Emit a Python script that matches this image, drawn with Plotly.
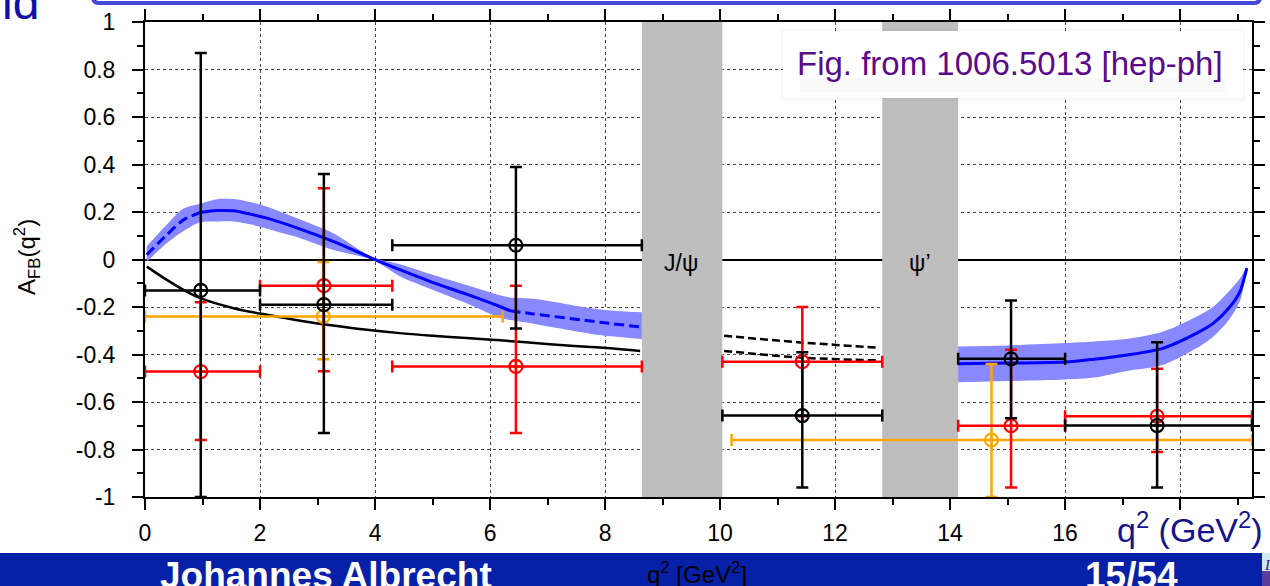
import numpy as np
import plotly.graph_objects as go

# ---------------- data ----------------
# SM prediction (low q2): central value and uncertainty band
sm1_q = [0.03, 0.38, 0.67, 0.96, 1.25, 1.54, 1.83, 2.12, 2.70, 3.27, 3.97, 4.43, 5.01, 5.59, 6.17, 6.35, 6.75, 7.91, 8.64]
sm1_c = [0.02, 0.104, 0.167, 0.198, 0.206, 0.205, 0.191, 0.174, 0.128, 0.076, 0.003, -0.043, -0.097, -0.146, -0.198, -0.216, -0.229, -0.264, -0.285]
sm1_hi = [0.055, 0.147, 0.215, 0.235, 0.254, 0.255, 0.242, 0.222, 0.168, 0.111, 0.008, -0.02, -0.065, -0.107, -0.15, -0.16, -0.165, -0.21, -0.222]
sm1_lo = [-0.01, 0.069, 0.12, 0.157, 0.16, 0.16, 0.148, 0.13, 0.09, 0.041, -0.003, -0.07, -0.128, -0.184, -0.245, -0.255, -0.27, -0.318, -0.335]

# SM prediction (high q2)
sm2_q = [14.14, 15.0, 16.0, 16.5, 17.05, 17.71, 18.29, 18.58, 18.87, 19.04, 19.16]
sm2_c = [-0.439, -0.436, -0.432, -0.42, -0.403, -0.373, -0.31, -0.268, -0.198, -0.135, -0.036]
sm2_hi = [-0.366, -0.362, -0.352, -0.345, -0.335, -0.303, -0.24, -0.198, -0.128, -0.08, -0.03]
sm2_lo = [-0.517, -0.512, -0.505, -0.497, -0.47, -0.443, -0.373, -0.324, -0.247, -0.175, -0.04]

# alternative model curve (black)
alt_q = [0.03, 0.38, 0.67, 0.96, 1.54, 2.12, 2.70, 3.27, 3.86, 4.43, 5.01, 5.59, 6.17, 7.04, 7.91, 8.61]
alt_a = [-0.03, -0.086, -0.128, -0.163, -0.205, -0.233, -0.258, -0.278, -0.296, -0.31, -0.321, -0.331, -0.34, -0.357, -0.371, -0.385]

# dashed curves between the charmonium regions
gap_q = [10.07, 11.39, 12.75]
gap_up = [-0.321, -0.349, -0.371]
gap_dn = [-0.385, -0.413, -0.425]

# charmonium veto regions
veto_lo = [8.64, 12.82]
veto_hi = [10.04, 14.14]
veto_labels = ["J/\u03c8", "\u03c8\u2019"]
veto_label_q = [9.32, 13.48]

# measurements: bin centre, bin edges, value, upper / lower error limits
black_q = [0.97, 3.11, 6.45, 11.43, 15.06, 17.6]
black_qlo = [0.0, 2.0, 4.3, 10.04, 14.14, 16.0]
black_qhi = [2.0, 4.3, 8.64, 12.82, 16.0, 19.25]
black_a = [-0.13, -0.19, 0.06, -0.657, -0.418, -0.699]
black_ahi = [0.87, 0.36, 0.39, -0.39, -0.173, -0.348]
black_alo = [-1.0, -0.73, -0.29, -0.96, -0.668, -0.96]

red_q = [0.97, 3.11, 6.45, 11.43, 15.06, 17.6]
red_qlo = [0.0, 2.0, 4.3, 10.04, 14.14, 16.0]
red_qhi = [2.0, 4.3, 8.64, 12.82, 16.0, 19.25]
red_a = [-0.472, -0.11, -0.45, -0.43, -0.70, -0.66]
red_ahi = [-0.18, 0.30, -0.11, -0.20, -0.38, -0.46]
red_alo = [-0.76, -0.47, -0.73, -0.66, -0.96, -0.81]

orange_q = [3.1, 14.72]
orange_qlo = [0.0, 10.2]
orange_qhi = [6.22, 19.25]
orange_a = [-0.24, -0.76]
orange_ahi = [-0.01, -0.44]
orange_alo = [-0.42, -1.0]

x_ticks = [0, 2, 4, 6, 8, 10, 12, 14, 16, 18]
x_ticktext = ["0", "2", "4", "6", "8", "10", "12", "14", "16", ""]
y_ticks = [-1, -0.8, -0.6, -0.4, -0.2, 0, 0.2, 0.4, 0.6, 0.8, 1]
y_ticktext = ["-1", "-0.8", "-0.6", "-0.4", "-0.2", "0", "0.2", "0.4", "0.6", "0.8", "1"]
X_RANGE = [0, 19.25]
Y_RANGE = [-1, 1]

# ---------------- figure ----------------
W, H = 1270, 586
L, R, T, B = 145, 1252, 22, 497


def pxx(x):
    return (x - L) / (R - L)


def pxy(y):
    return (B - y) / (B - T)


BAND = "#8888ff"
BLUE = "#0000ff"

fig = go.Figure()

for lo, hi in zip(veto_lo, veto_hi):
    fig.add_trace(go.Scatter(x=[lo, hi, hi, lo, lo],
                             y=[Y_RANGE[0], Y_RANGE[0], Y_RANGE[1], Y_RANGE[1], Y_RANGE[0]],
                             mode="lines", fill="toself", fillcolor="#bebebe",
                             line=dict(width=0, color="#bebebe"), hoverinfo="skip"))


def add_band(q, lo, hi):
    fig.add_trace(go.Scatter(x=q, y=lo, mode="lines",
                             line=dict(width=0, shape="spline", smoothing=0.8, color=BAND),
                             hoverinfo="skip"))
    fig.add_trace(go.Scatter(x=q, y=hi, mode="lines", fill="tonexty", fillcolor=BAND,
                             line=dict(width=0, shape="spline", smoothing=0.8, color=BAND),
                             hoverinfo="skip"))


add_band(sm1_q, sm1_lo, sm1_hi)
add_band(sm2_q, sm2_lo, sm2_hi)

q1 = np.array(sm1_q)
c1 = np.array(sm1_c)
for mask, dash in [(q1 <= 0.96, "10px,5px"),
                   ((q1 >= 0.96) & (q1 <= 6.35), "solid"),
                   (q1 >= 6.35, "10px,5px")]:
    fig.add_trace(go.Scatter(x=q1[mask], y=c1[mask], mode="lines",
                             line=dict(color=BLUE, width=3, dash=dash, shape="spline", smoothing=0.8),
                             hoverinfo="skip"))
fig.add_trace(go.Scatter(x=sm2_q, y=sm2_c, mode="lines",
                         line=dict(color=BLUE, width=3, shape="spline", smoothing=0.8),
                         hoverinfo="skip"))

fig.add_trace(go.Scatter(x=alt_q, y=alt_a, mode="lines",
                         line=dict(color="black", width=2.5, shape="spline", smoothing=0.8),
                         hoverinfo="skip"))
for arr in (gap_up, gap_dn):
    fig.add_trace(go.Scatter(x=gap_q, y=arr, mode="lines",
                             line=dict(color="black", width=2.5, dash="8px,4px", shape="spline", smoothing=0.8),
                             hoverinfo="skip"))


def add_points(q, qlo, qhi, a, ahi, alo, color):
    q, qlo, qhi = np.array(q), np.array(qlo), np.array(qhi)
    a, ahi, alo = np.array(a), np.array(ahi), np.array(alo)
    fig.add_trace(go.Scatter(
        x=q, y=a, mode="markers",
        marker=dict(symbol="circle-cross-open", size=13, color=color, line=dict(width=2.2, color=color)),
        error_x=dict(type="data", symmetric=False, array=qhi - q, arrayminus=q - qlo,
                     color=color, thickness=2.5, width=6),
        error_y=dict(type="data", symmetric=False, array=ahi - a, arrayminus=a - alo,
                     color=color, thickness=2.5, width=6)))


add_points(orange_q, orange_qlo, orange_qhi, orange_a, orange_ahi, orange_alo, "#ffa500")
add_points(red_q, red_qlo, red_qhi, red_a, red_ahi, red_alo, "#ff0000")
add_points(black_q, black_qlo, black_qhi, black_a, black_ahi, black_alo, "#000000")

axis_common = dict(ticks="outside", ticklen=11, tickwidth=2, tickcolor="black",
                   showline=True, linewidth=2, linecolor="black", mirror="ticks",
                   showgrid=True, gridcolor="#444444", griddash="dot", gridwidth=1,
                   automargin=False,
                   tickfont=dict(size=23, color="black", family="Liberation Sans, Arial"))

fig.update_xaxes(range=X_RANGE, tickmode="array", tickvals=x_ticks, ticktext=x_ticktext,
                 zeroline=False, ticklabelstandoff=3,
                 minor=dict(tickvals=[v + 1 for v in x_ticks], ticks="outside", ticklen=6,
                            tickwidth=2, tickcolor="black", showgrid=False),
                 **axis_common)
fig.update_yaxes(range=Y_RANGE, tickmode="array", tickvals=y_ticks, ticktext=y_ticktext,
                 zeroline=True, zerolinecolor="black", zerolinewidth=1.5, ticklabelstandoff=12,
                 minor=dict(tickvals=[round(v + 0.1, 2) for v in y_ticks[:-1]], ticks="outside",
                            ticklen=6, tickwidth=2, tickcolor="black", showgrid=False),
                 **axis_common)

shapes = []
# blue frame of slide title box (top)
x0, x1 = pxx(93), pxx(1260)
yb, yt = pxy(3), pxy(-40)
rx, ry = 6 / (R - L), 6 / (B - T)
shapes.append(dict(type="path", xref="paper", yref="paper",
                   path=f"M {x0},{yt} L {x0},{yb + ry} Q {x0},{yb} {x0 + rx},{yb} "
                        f"L {x1 - rx},{yb} Q {x1},{yb} {x1},{yb + ry} L {x1},{yt}",
                   line=dict(color="#4646d8", width=4), layer="above"))
# footer band
shapes.append(dict(type="rect", xref="paper", yref="paper", x0=pxx(-5), x1=pxx(1262),
                   y0=pxy(553), y1=pxy(600), fillcolor="#0620a8", line=dict(width=0), layer="above"))
shapes.append(dict(type="rect", xref="paper", yref="paper", x0=pxx(1262), x1=pxx(1280),
                   y0=pxy(553), y1=pxy(571), fillcolor="#cfe9ef", line=dict(width=0), layer="above"))
shapes.append(dict(type="rect", xref="paper", yref="paper", x0=pxx(1262), x1=pxx(1280),
                   y0=pxy(571), y1=pxy(600), fillcolor="#5a3c9a", line=dict(width=0), layer="above"))
# "Fig. from" box with soft shadow
shapes.append(dict(type="rect", xref="paper", yref="paper", x0=pxx(781), x1=pxx(1245),
                   y0=pxy(101), y1=pxy(29), fillcolor="rgba(0,0,0,0.025)", line=dict(width=0), layer="above"))
shapes.append(dict(type="rect", xref="paper", yref="paper", x0=pxx(783), x1=pxx(1243),
                   y0=pxy(98), y1=pxy(31), fillcolor="white", line=dict(width=0), layer="above"))
shapes.append(dict(type="rect", xref="paper", yref="paper", x0=pxx(800), x1=pxx(1225),
                   y0=pxy(92), y1=pxy(78), fillcolor="rgba(0,0,0,0.025)", line=dict(width=0), layer="above"))

ann = []
for lab, qx in zip(veto_labels, veto_label_q):
    ann.append(dict(x=qx, y=-0.015, xref="x", yref="y", text=lab, showarrow=False,
                    font=dict(size=23, color="black", family="Liberation Sans, Arial"),
                    xanchor="center", yanchor="middle"))
ann.append(dict(x=pxx(1010), y=pxy(63), xref="paper", yref="paper",
                text="Fig. from 1006.5013 [hep-ph]", showarrow=False,
                font=dict(size=33, color="#5a0a8c", family="Liberation Sans, Arial"),
                xanchor="center", yanchor="middle"))
ann.append(dict(x=pxx(27), y=pxy(257), xref="paper", yref="paper",
                text="A<sub>FB</sub>(q<sup>2</sup>)", showarrow=False, textangle=-90,
                font=dict(size=24, color="black", family="Liberation Sans, Arial"),
                xanchor="center", yanchor="middle"))
ann.append(dict(x=pxx(1190), y=pxy(527), xref="paper", yref="paper",
                text="q<sup>2</sup> (GeV<sup>2</sup>)", showarrow=False,
                font=dict(size=34, color="#14148c", family="Liberation Sans, Arial"),
                xanchor="center", yanchor="middle"))
ann.append(dict(x=pxx(41), y=pxy(31), xref="paper", yref="paper", text="ld", showarrow=False,
                font=dict(size=48, color="#1010a8", family="Liberation Sans, Arial"),
                xanchor="right", yanchor="bottom"))
ann.append(dict(x=pxx(158), y=pxy(575), xref="paper", yref="paper", text="<b>Johannes Albrecht</b>",
                showarrow=False, font=dict(size=37, color="white", family="Liberation Sans, Arial"),
                xanchor="left", yanchor="middle"))
ann.append(dict(x=pxx(1131), y=pxy(575), xref="paper", yref="paper", text="<b>15/54</b>",
                showarrow=False, font=dict(size=37, color="white", family="Liberation Sans, Arial"),
                xanchor="center", yanchor="middle"))
ann.append(dict(x=pxx(697), y=pxy(573), xref="paper", yref="paper", text="q<sup>2</sup> [GeV<sup>2</sup>]",
                showarrow=False,
                font=dict(size=24, color="black", family="Liberation Sans Narrow, Liberation Sans, Arial"),
                xanchor="center", yanchor="middle"))
ann.append(dict(x=pxx(1262), y=pxy(565), xref="paper", yref="paper", text="<i>LHCb</i>",
                showarrow=False, font=dict(size=15, color="#3a1a8a", family="Liberation Serif, serif"),
                xanchor="left", yanchor="middle"))

fig.update_layout(width=W, height=H, autosize=False,
                  margin=dict(l=L, r=W - R, t=T, b=H - B, pad=0),
                  paper_bgcolor="white", plot_bgcolor="white", showlegend=False,
                  font=dict(family="Liberation Sans, Arial", color="black"),
                  shapes=shapes, annotations=ann)

fig.write_html("out.html")
